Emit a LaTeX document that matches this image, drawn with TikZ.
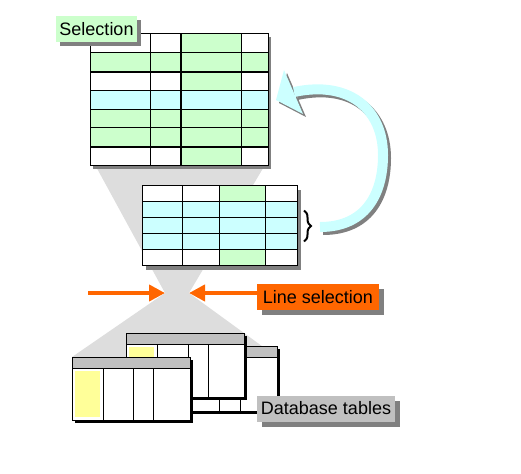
\documentclass[tikz,border=0pt]{standalone}
\usepackage{fontspec}
\setmainfont{Liberation Sans}
\usetikzlibrary{calc,positioning,arrows.meta,backgrounds,decorations.pathreplacing}
\definecolor{selGreen}{HTML}{CCFFCC}
\definecolor{selCyan}{HTML}{CCFFFF}
\definecolor{selWhite}{HTML}{FFFFFF}
\definecolor{dbYellow}{HTML}{FFFF99}
\definecolor{dbHead}{HTML}{C0C0C0}
\definecolor{funnelGray}{HTML}{DDDDDD}
\definecolor{shadowGray}{HTML}{808080}
\definecolor{lineOrange}{HTML}{FF6600}
\newcommand{\RowTop}{18.8}
\newcommand{\RowMid}{16}
\tikzset{Label/.style={
    inner sep=0pt,
    minimum height=26pt,
    text height=12.5pt,
    text depth=0pt,
    font={\fontsize{18pt}{20}\selectfont}
    },
    Dropped/.style 2 args={preaction={fill=#1, transform canvas={shift={(#2,#2)}}}},
    Frame/.style={inner sep=0pt, outer sep=0pt, anchor=north west, fill=white},
    Grid/.style={draw=black, line width=1pt},
    GridThick/.style={draw=black, line width=2pt},
    OrangeArrow/.style={draw=lineOrange, line width=4pt, -{Triangle[length=16pt,width=16pt]}},
    Loop/.style={line width=10pt, line cap=butt}
}

\begin{document}
\begin{tikzpicture}[x=1pt, y=-1pt]
\useasboundingbox (0,0) rectangle (521,473);
% selection table
\node[Frame, minimum width=178pt, minimum height=131.6pt, Dropped={shadowGray}{3}] (sel) at (90,34) {};
\foreach \r/\a/\b/\c/\d in {0/selWhite/selWhite/selGreen/selWhite, 1/selGreen/selGreen/selGreen/selGreen,
    2/selWhite/selWhite/selGreen/selWhite, 3/selCyan/selCyan/selCyan/selCyan, 4/selGreen/selGreen/selGreen/selGreen,
    5/selGreen/selGreen/selGreen/selGreen, 6/selWhite/selWhite/selGreen/selWhite} {
  \foreach \fc/\xa/\xb in {\a/0/60, \b/60/91, \c/91/151, \d/151/178}
    \fill[\fc] ($(sel.north west)+(\xa,{\r*\RowTop})$) rectangle ($(sel.north west)+(\xb,{(\r+1)*\RowTop})$);
}
\foreach \xx in {60,151}
  \draw[Grid] ($(sel.north west)+(\xx,0)$) -- ($(sel.south west)+(\xx,0)$);
\draw[GridThick] ($(sel.north west)+(91,0)$) -- ($(sel.south west)+(91,0)$);
\foreach \r in {1,3,4,5}
  \draw[Grid] ($(sel.north west)+(0,{\r*\RowTop})$) -- ($(sel.north east)+(0,{\r*\RowTop})$);
\foreach \r in {2,6}
  \draw[GridThick] ($(sel.north west)+(0,{\r*\RowTop})$) -- ($(sel.north east)+(0,{\r*\RowTop})$);
\draw[Grid] (sel.north west) rectangle (sel.south east);
\node[Label, fill=selGreen, minimum width=81pt, Dropped={shadowGray}{4}] (selLabel) at (96.5,29) {Selection};

% middle table
\node[Frame, minimum width=155pt, minimum height=80pt, Dropped={shadowGray}{4}] (mid) at (142,185.5) {};
\foreach \r/\a/\b/\c/\d in {0/selWhite/selWhite/selGreen/selWhite, 1/selCyan/selCyan/selCyan/selCyan,
    2/selCyan/selCyan/selCyan/selCyan, 3/selCyan/selCyan/selCyan/selCyan, 4/selWhite/selWhite/selGreen/selWhite} {
  \foreach \fc/\xa/\xb in {\a/0/40, \b/40/77, \c/77/123, \d/123/155}
    \fill[\fc] ($(mid.north west)+(\xa,{\r*\RowMid})$) rectangle ($(mid.north west)+(\xb,{(\r+1)*\RowMid})$);
}
\foreach \xx in {40,77,123}
  \draw[Grid] ($(mid.north west)+(\xx,0)$) -- ($(mid.south west)+(\xx,0)$);
\foreach \r in {1,...,4}
  \draw[Grid] ($(mid.north west)+(0,{\r*\RowMid})$) -- ($(mid.north east)+(0,{\r*\RowMid})$);
\draw[Grid] (mid.north west) rectangle (mid.south east);
\draw[decorate, decoration={brace, amplitude=7pt}, line width=2pt] ($(mid.north east)+(7,25)$) -- ($(mid.north east)+(7,56)$);

% loop back to the selection
\coordinate (loopTail) at (320,227);
\coordinate (loopEnd) at (294,92);
\draw[Loop, shadowGray, transform canvas={shift={(3,3)}}] (loopTail) .. controls (365,227) and (383,195) .. (383,155)
  .. controls (383,110) and (350,80) .. (loopEnd);
\fill[shadowGray, transform canvas={shift={(3,3)}}] (284,70) -- (276,100) -- (303,114) -- cycle;
\draw[Loop, selCyan] (loopTail) .. controls (365,227) and (383,195) .. (383,155)
  .. controls (383,110) and (350,80) .. (loopEnd);
\fill[selCyan] (284,70) -- (276,100) -- (303,114) -- cycle;

% database tables
\node[Frame, minimum width=137pt, minimum height=65pt, Dropped={black}{3}] (dbBack) at (140,346) {};
\fill[dbHead] (dbBack.north west) rectangle ($(dbBack.north east)+(0,11)$);
\foreach \xx in {79,100}
  \draw[Grid] ($(dbBack.north west)+(\xx,11)$) -- ($(dbBack.south west)+(\xx,0)$);
\draw[Grid] ($(dbBack.north west)+(0,11)$) -- ($(dbBack.north east)+(0,11)$);
\draw[Grid] (dbBack.north west) rectangle (dbBack.south east);

\node[Frame, minimum width=118pt, minimum height=64pt, Dropped={black}{3}] (dbMid) at (126,333) {};
\fill[dbHead] (dbMid.north west) rectangle ($(dbMid.north east)+(0,11)$);
\fill[dbYellow] ($(dbMid.north west)+(3,14)$) rectangle ($(dbMid.north west)+(28,40)$);
\foreach \xx in {31,62,82}
  \draw[Grid] ($(dbMid.north west)+(\xx,11)$) -- ($(dbMid.south west)+(\xx,0)$);
\draw[Grid] ($(dbMid.north west)+(0,11)$) -- ($(dbMid.north east)+(0,11)$);
\draw[Grid] (dbMid.north west) rectangle (dbMid.south east);

\node[Frame, minimum width=118pt, minimum height=63pt, Dropped={black}{3}] (dbFront) at (72,357) {};
\fill[dbHead] (dbFront.north west) rectangle ($(dbFront.north east)+(0,11)$);
\fill[dbYellow] ($(dbFront.north west)+(3,14)$) rectangle ($(dbFront.north west)+(28,60)$);
\foreach \xx in {31,61,81}
  \draw[Grid] ($(dbFront.north west)+(\xx,11)$) -- ($(dbFront.south west)+(\xx,0)$);
\draw[Grid] ($(dbFront.north west)+(0,11)$) -- ($(dbFront.north east)+(0,11)$);
\draw[Grid] (dbFront.north west) rectangle (dbFront.south east);
\node[Label, fill=dbHead, minimum width=138pt, Dropped={shadowGray}{5}] (dbLabel) at (326,408.5) {Database tables};

% line selection
\coordinate (waistL) at (165,293);
\coordinate (waistR) at (189,293);
\coordinate (feedL) at (88,293);
\node[Label, fill=lineOrange, minimum width=122pt, Dropped={shadowGray}{5}] (lineSel) at (318,297) {Line selection};
\draw[OrangeArrow] (feedL) -- (waistL);
\draw[OrangeArrow] (lineSel.west |- waistR) -- (waistR);

\begin{pgfonlayer}{background}
\fill[funnelGray] ($(sel.south west)+(6,1)$) -- ($(sel.south east)+(-4,1)$) -- (waistR) -- (waistL) -- cycle;
\fill[funnelGray] (waistL) -- (waistR) -- (dbBack.north east |- dbFront.north west) -- (dbFront.north west) -- cycle;
\end{pgfonlayer}
\end{tikzpicture}
\end{document}
